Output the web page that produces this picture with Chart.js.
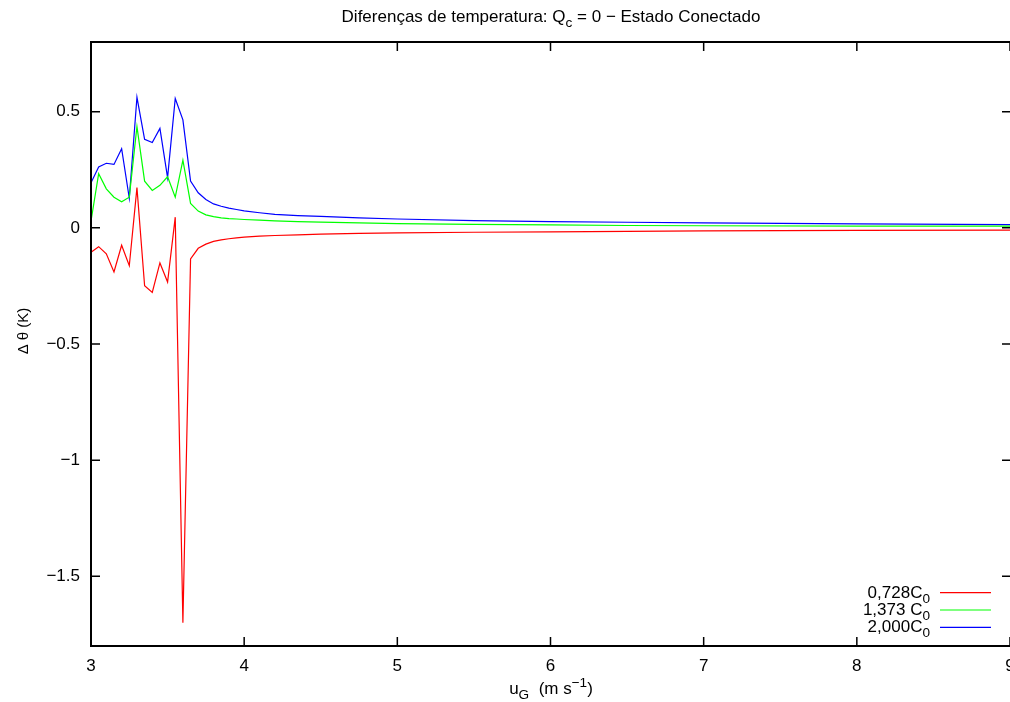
<!DOCTYPE html>
<html>
<head>
<meta charset="utf-8">
<script src="https://cdn.jsdelivr.net/npm/chart.js@4/dist/chart.umd.min.js"></script>
<style>
html,body{margin:0;padding:0;background:#fff;overflow:hidden;}
</style>
</head>
<body>
<canvas id="c" width="1010" height="702"></canvas>
<script>
// ---- data ----
const uG = [3.00,3.05,3.10,3.15,3.20,3.25,3.30,3.35,3.40,3.45,3.50,3.55,3.60,3.65,
            3.70,3.75,3.80,3.85,3.90,3.95,4.00,4.10,4.20,4.35,4.50,4.75,5.00,5.50,6.00,6.50,7.00,8.00,9.00];
const dT_0728 = [-0.105,-0.081,-0.112,-0.190,-0.075,-0.163,0.173,-0.249,-0.278,-0.151,-0.233,0.046,-1.700,-0.134,
            -0.088,-0.070,-0.058,-0.052,-0.047,-0.043,-0.040,-0.036,-0.033,-0.030,-0.027,-0.024,-0.022,-0.019,-0.017,-0.015,-0.013,-0.011,-0.010];
const dT_1373 = [0.029,0.233,0.168,0.132,0.112,0.132,0.436,0.201,0.161,0.183,0.220,0.132,0.291,0.105,
            0.072,0.056,0.048,0.043,0.040,0.038,0.036,0.033,0.030,0.027,0.025,0.021,0.018,0.015,0.013,0.010,0.009,0.007,0.007];
const dT_2000 = [0.194,0.262,0.278,0.273,0.341,0.127,0.562,0.381,0.367,0.428,0.216,0.557,0.465,0.201,
            0.151,0.122,0.103,0.093,0.085,0.079,0.073,0.065,0.058,0.053,0.049,0.043,0.038,0.031,0.027,0.024,0.021,0.017,0.014];
const xTicks = [3,4,5,6,7,8,9];
const yTicks = [-1.5,-1,-0.5,0,0.5];
const seriesNames = [[{t:'0,728C'},{t:'0',sub:1}],[{t:'1,373 C'},{t:'0',sub:1}],[{t:'2,000C'},{t:'0',sub:1}]];
const seriesColors = ['#ff0000','#00ff00','#0000ff'];
const titleText = [{t:'Diferenças de temperatura: Q'},{t:'c',sub:1},{t:' = 0 − Estado Conectado'}];
const xLabel = [{t:'u'},{t:'G',sub:1},{t:'  (m s'},{t:'−1',sup:1},{t:')'}];
const yLabel = [{t:'Δ θ (K)'}];

const FONT = '"Liberation Sans", Arial, sans-serif';
const FS = 17;

function richWidth(ctx, segs, fs){
  let w=0;
  for(const s of segs){
    const f = (s.sub||s.sup)? fs*0.8 : fs;
    ctx.font = f+'px '+FONT;
    w += ctx.measureText(s.t).width;
  }
  return w;
}
function drawRich(ctx, segs, x, y, fs, align){
  const w = richWidth(ctx, segs, fs);
  let cx = align==='center'? x-w/2 : align==='right'? x-w : x;
  ctx.textBaseline='alphabetic';
  ctx.textAlign='left';
  for(const s of segs){
    const f = (s.sub||s.sup)? fs*0.8 : fs;
    ctx.font = f+'px '+FONT;
    let dy = s.sub? fs*0.3 : s.sup? -fs*0.4 : 0;
    ctx.fillText(s.t, cx, y+dy);
    cx += ctx.measureText(s.t).width;
  }
}

const decor = {
  id:'decor',
  afterDraw(chart){
    const ctx = chart.ctx, a = chart.chartArea;
    const xs = chart.scales.x, ys = chart.scales.y;
    const R = a.right + 1;
    ctx.save();
    ctx.strokeStyle='#000'; ctx.fillStyle='#000';
    ctx.lineWidth=1.5;
    const TL = 9;
    ctx.beginPath();
    for(const v of xTicks){
      const px = xs.getPixelForValue(v);
      ctx.moveTo(px,a.bottom); ctx.lineTo(px,a.bottom-TL);
      ctx.moveTo(px,a.top); ctx.lineTo(px,a.top+TL);
    }
    for(const v of yTicks){
      const py = ys.getPixelForValue(v);
      ctx.moveTo(a.left,py); ctx.lineTo(a.left+TL,py);
      ctx.moveTo(R,py); ctx.lineTo(R-TL,py);
    }
    ctx.stroke();
    ctx.lineWidth=2;
    ctx.strokeRect(a.left,a.top,R-a.left,a.bottom-a.top);
    const cxm = (a.left+R)/2;
    // title
    drawRich(ctx, titleText, cxm, 22, 17, 'center');
    // x label
    drawRich(ctx, xLabel, cxm, 694, 17, 'center');
    // y label
    ctx.save();
    ctx.translate(28, 331);
    ctx.rotate(-Math.PI/2);
    drawRich(ctx, yLabel, 0, 0, 15, 'center');
    ctx.restore();
    // legend
    const rows=[592.7,610,627.3];
    for(let i=0;i<3;i++){
      drawRich(ctx, seriesNames[i], 930, rows[i]+5, 17, 'right');
      ctx.strokeStyle=seriesColors[i]; ctx.lineWidth=1.2;
      ctx.beginPath(); ctx.moveTo(940,rows[i]); ctx.lineTo(991,rows[i]); ctx.stroke();
    }
    ctx.restore();
  }
};

const series=[dT_0728,dT_1373,dT_2000];
new Chart(document.getElementById('c'),{
  type:'line',
  data:{datasets: series.map((s,k)=>({
    label:'s'+k,
    data: uG.map((x,i)=>({x:x,y:s[i]})),
    borderColor:seriesColors[k], borderWidth:1.2, pointRadius:0, tension:0, fill:false
  }))},
  options:{
    responsive:false, animation:false, devicePixelRatio:1,
    layout:{autoPadding:false,padding:{left:0,top:42,right:0,bottom:0}},
    plugins:{legend:{display:false},title:{display:false},tooltip:{enabled:false}},
    scales:{
      x:{type:'linear',min:3,max:9,
        afterFit(s){s.height=56;s.paddingLeft=0;s.paddingRight=0;},
        afterBuildTicks(s){s.ticks=xTicks.map(v=>({value:v}));},
        grid:{display:false,drawTicks:false},border:{display:false},
        ticks:{padding:10,color:'#000',font:{family:FONT,size:FS},maxRotation:0,autoSkip:false,
          callback:v=>String(v)}},
      y:{type:'linear',min:-1.8,max:0.8,
        afterFit(s){s.width=91;s.paddingTop=0;s.paddingBottom=0;},
        afterBuildTicks(s){s.ticks=yTicks.map(v=>({value:v}));},
        grid:{display:false,drawTicks:false},border:{display:false},
        ticks:{padding:11,color:'#000',font:{family:FONT,size:FS},autoSkip:false,
          callback:v=>{const r=Math.round(v*10)/10; return r<0?'−'+Math.abs(r):String(r);}}}
    }
  },
  plugins:[decor]
});
</script>
</body>
</html>
